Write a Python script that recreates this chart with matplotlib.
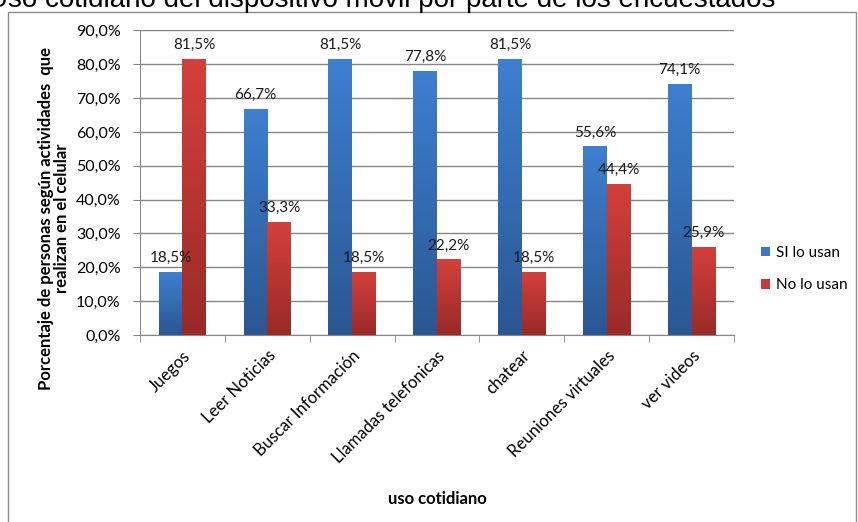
import matplotlib
matplotlib.use("Agg")
import matplotlib.pyplot as plt
import numpy as np
from matplotlib.patches import Rectangle, Patch
from matplotlib.colors import LinearSegmentedColormap

categories = ["Juegos", "Leer Noticias", "Buscar Información", "Llamadas telefonicas",
              "chatear", "Reuniones virtuales", "ver videos"]
si_lo_usan = [18.5, 66.7, 81.5, 77.8, 81.5, 55.6, 74.1]
no_lo_usan = [81.5, 33.3, 18.5, 22.2, 18.5, 44.4, 25.9]
series_names = ["SI lo usan", "No lo usan"]
yticks = [0, 10, 20, 30, 40, 50, 60, 70, 80, 90]

plt.rcParams['font.family'] = ['Lato', 'DejaVu Sans']

W, H = 858, 522
fig = plt.figure(figsize=(W/100, H/100), dpi=100)
fig.patch.set_facecolor('white')

# outer frame
fig.add_artist(Rectangle((8/W, -0.01), (856-8)/W, 1 - 12/H + 0.01, transform=fig.transFigure,
                         fill=False, edgecolor='#8c8c8c', lw=1))

# title (cut off at the top, as in the source)
fig.text(775/W, 1 - 7/H, "Uso cotidiano del dispositivo móvil por parte de los encuestados",
         ha='right', va='baseline', fontsize=20, family=['Liberation Sans', 'DejaVu Sans'])

ax = fig.add_axes([140/W, 1 - 335/H, (734-140)/W, (335-30.5)/H])

x = np.arange(len(categories))
w = 0.28

blue_cmap = LinearSegmentedColormap.from_list('b', ['#2A5792', '#3D7FD0'])
red_cmap = LinearSegmentedColormap.from_list('r', ['#992A27', '#D4403C'])
grad = np.linspace(0, 1, 256).reshape(-1, 1)

for vals, off, cmap in [(si_lo_usan, -w/2, blue_cmap), (no_lo_usan, w/2, red_cmap)]:
    bars = ax.bar(x + off, vals, w, color='none', zorder=3)
    for b in bars:
        x0, y1 = b.get_x(), b.get_height()
        ax.imshow(grad, extent=(x0, x0 + b.get_width(), 0, y1), origin='lower',
                  cmap=cmap, aspect='auto', zorder=3)
    for xi, v in zip(x + off, vals):
        ax.text(xi, v + 2.2, f"{v:.1f}%".replace('.', ','), ha='center', va='bottom',
                fontsize=11, color='#1a1a1a', zorder=4)

ax.set_xlim(-0.5, len(categories) - 0.5)
ax.set_ylim(0, 90)
ax.set_yticks(yticks)
ax.set_yticklabels([f"{t:.1f}%".replace('.', ',') for t in yticks], fontsize=11.5)
ax.yaxis.grid(True, color='#868686', lw=1, zorder=0)
ax.set_axisbelow(True)
ax.set_xticks(x)
ax.set_xticklabels(categories, rotation=45, ha='right', rotation_mode='anchor', fontsize=12)
ax.set_xticks(np.arange(-0.5, len(categories), 1), minor=True)
ax.tick_params(axis='x', which='major', length=0, pad=9)
ax.tick_params(axis='x', which='minor', length=5, color='#868686')
ax.tick_params(axis='y', length=5, color='#868686', pad=9)
for s in ['top', 'right']:
    ax.spines[s].set_visible(False)
for s in ['left', 'bottom']:
    ax.spines[s].set_color('#868686')

ax.set_xlabel("uso cotidiano", fontsize=12, fontweight='bold', labelpad=18)
fig.text(54/W, 1 - 218/H, "Porcentaje de personas según actividades  que\nrealizan en el celular",
         rotation=90, ha='center', va='center', fontsize=12, fontweight='bold',
         linespacing=1.05)

# legend
handles = [Patch(facecolor='#3A78C6'), Patch(facecolor='#C83A37')]
fig.legend(handles, series_names, loc='center left', bbox_to_anchor=(761/W, 1 - 269/H),
           frameon=False, fontsize=11, handlelength=0.6, handleheight=0.6,
           handletextpad=0.35, labelspacing=1.2, borderpad=0, borderaxespad=0)

fig.savefig("out.png", dpi=100)
